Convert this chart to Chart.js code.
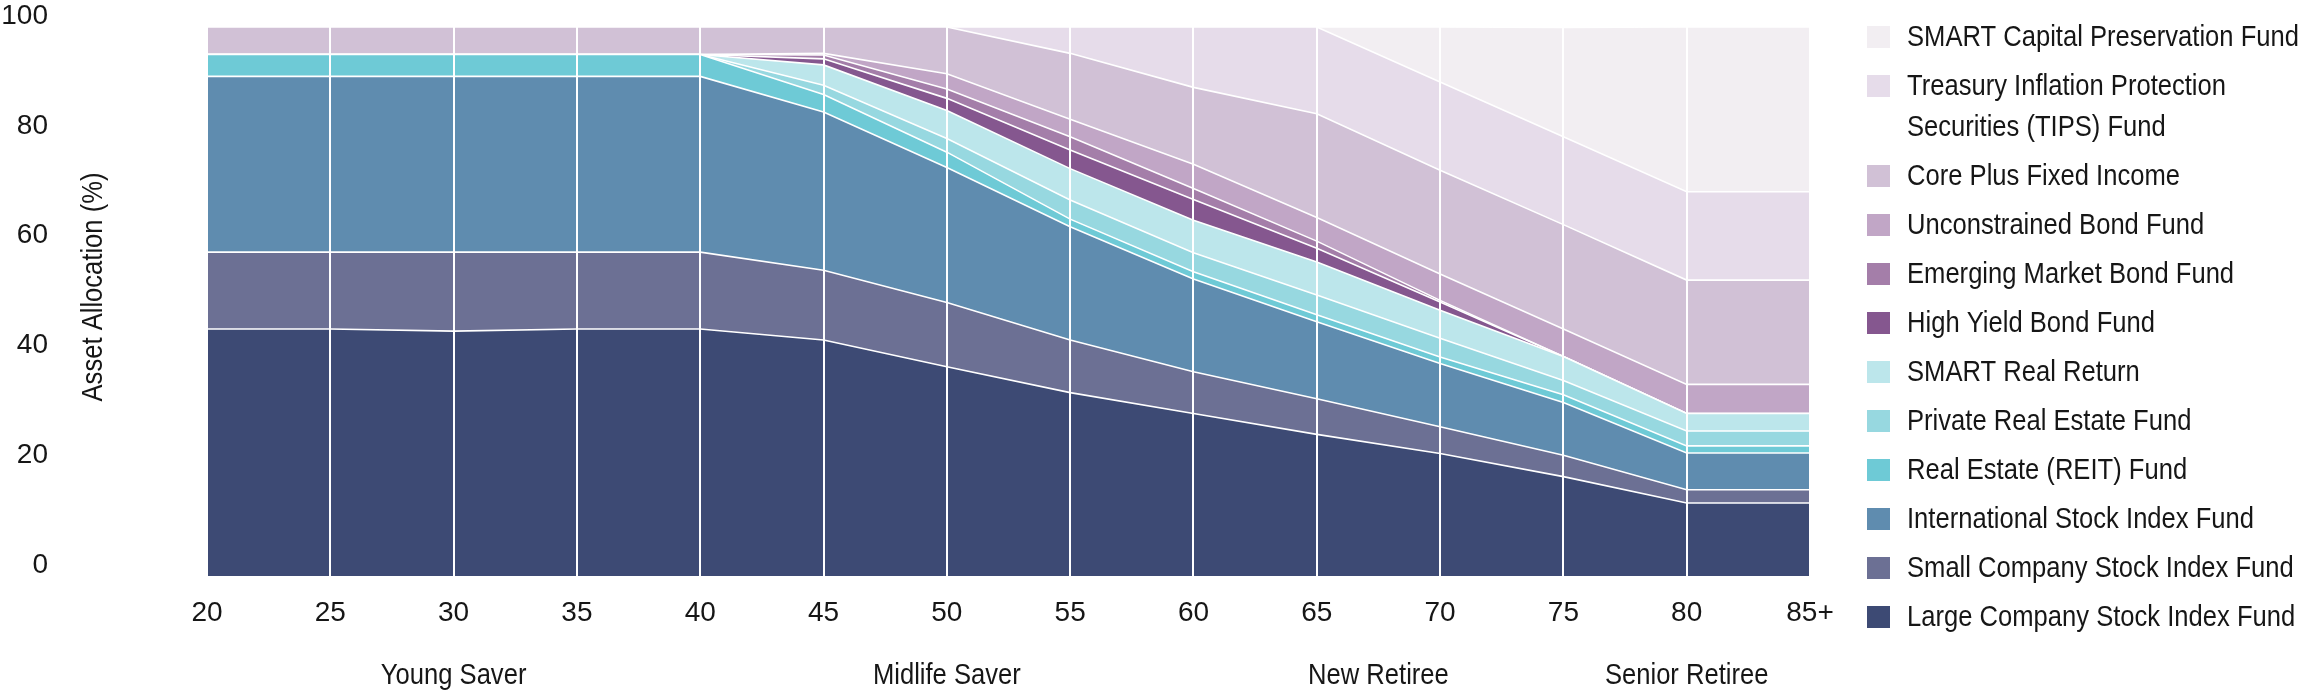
<!DOCTYPE html>
<html>
<head>
<meta charset="utf-8">
<script src="https://cdn.jsdelivr.net/npm/chart.js@4"></script>
<style>
  html, body { margin: 0; padding: 0; background: #fff; }
  canvas { display: block; }
</style>
</head>
<body>
<canvas id="grafica" width="2308" height="694"></canvas>
<script>
// ages along the glide path
const ages = ['20', '25', '30', '35', '40', '45', '50', '55', '60', '65', '70', '75', '80', '85+'];

// allocation (%) per fund, bottom of the stack first
const largeCompany  = [45, 45, 44.6, 45, 45, 43.0, 38.1, 33.4, 29.6, 25.8, 22.3, 18.1, 13.3, 13.3];
const smallCompany  = [14, 14, 14.4, 14, 14, 12.7, 11.7, 9.6, 7.6, 6.5, 4.9, 3.9, 2.4, 2.4];
const international = [32, 32, 32, 32, 32, 28.8, 24.6, 20.6, 16.9, 14.0, 11.5, 9.6, 6.7, 6.7];
const reit          = [4, 4, 4, 4, 4, 3.2, 2.8, 1.4, 1.3, 1.3, 1.2, 1.4, 1.3, 1.3];
const privateRE     = [0, 0, 0, 0, 0, 1.7, 2.5, 3.5, 3.5, 3.6, 3.4, 2.6, 2.7, 2.7];
const realReturn    = [0, 0, 0, 0, 0, 3.7, 5.1, 5.7, 5.9, 6.0, 5.1, 4.4, 3.2, 3.2];
const highYield     = [0, 0, 0, 0, 0, 1.1, 2.2, 3.4, 3.8, 2.5, 1.5, 0, 0, 0];
const emerging      = [0, 0, 0, 0, 0, 0.7, 1.7, 2.4, 2.0, 1.3, 0.3, 0, 0, 0];
const unconstrained = [0, 0, 0, 0, 0, 0.3, 2.8, 3.2, 4.4, 4.3, 4.8, 5.0, 5.3, 5.3];
const corePlus      = [5, 5, 5, 5, 5, 4.8, 8.5, 12.0, 14.0, 18.9, 18.9, 19.0, 19.0, 19.0];
const tips          = [0, 0, 0, 0, 0, 0, 0, 4.8, 11.0, 15.8, 16.1, 16.0, 16.1, 16.1];
const capPres       = [0, 0, 0, 0, 0, 0, 0, 0, 0, 0, 10.0, 19.9, 30.0, 30.0];

// life stage captions, placed at a category position (index)
const stages = ['Young Saver', 'Midlife Saver', 'New Retiree', 'Senior Retiree'];
const stageAt = [2, 6, 9.5, 12];

const series = [
  { label: ['Large Company Stock Index Fund'], data: largeCompany, color: '#3d4a74' },
  { label: ['Small Company Stock Index Fund'], data: smallCompany, color: '#6c7094' },
  { label: ['International Stock Index Fund'], data: international, color: '#5f8caf' },
  { label: ['Real Estate (REIT) Fund'], data: reit, color: '#6ecad6' },
  { label: ['Private Real Estate Fund'], data: privateRE, color: '#97d8e0' },
  { label: ['SMART Real Return'], data: realReturn, color: '#bce6eb' },
  { label: ['High Yield Bond Fund'], data: highYield, color: '#85578f' },
  { label: ['Emerging Market Bond Fund'], data: emerging, color: '#a47ea9' },
  { label: ['Unconstrained Bond Fund'], data: unconstrained, color: '#c1a6c6' },
  { label: ['Core Plus Fixed Income'], data: corePlus, color: '#d1c1d6' },
  { label: ['Treasury Inflation Protection', 'Securities (TIPS) Fund'], data: tips, color: '#e6dcea' },
  { label: ['SMART Capital Preservation Fund'], data: capPres, color: '#f2eef2' }
];

const FONT = '"Liberation Sans", Arial, sans-serif';
const INK = '#161616';
Chart.defaults.font.family = FONT;
Chart.defaults.font.size = 28;
Chart.defaults.color = INK;

// the original type is a condensed face, so squeeze our own text sideways
function squeezed(ctx, text, x, y, k) {
  ctx.save();
  ctx.translate(x, y);
  ctx.scale(k, 1);
  ctx.fillText(text, 0, 0);
  ctx.restore();
}

// stage captions under the axis, legend on the right, y title
const extras = {
  id: 'extras',
  afterDraw(c) {
    const ctx = c.ctx;
    const xs = c.scales.x;
    ctx.save();
    ctx.font = '30px ' + FONT;
    ctx.textBaseline = 'middle';
    const k = 392 / ctx.measureText('SMART Capital Preservation Fund').width;

    ctx.fillStyle = INK;
    ctx.textAlign = 'center';
    stages.forEach((s, i) => {
      const a = Math.floor(stageAt[i]), b = Math.ceil(stageAt[i]);
      const px = (xs.getPixelForValue(a) + xs.getPixelForValue(b)) / 2;
      squeezed(ctx, s, px, 676, k);
    });

    // legend, top of the stack first
    ctx.textAlign = 'left';
    let y = 38;
    for (let i = series.length - 1; i >= 0; i--) {
      const s = series[i];
      ctx.fillStyle = s.color;
      ctx.fillRect(1867, y - 12, 23, 22);
      ctx.fillStyle = INK;
      s.label.forEach((line, j) => squeezed(ctx, line, 1907, y + j * 41, k));
      y += 49 + (s.label.length - 1) * 41;
    }

    // y axis title
    ctx.translate(94, 287);
    ctx.rotate(-Math.PI / 2);
    ctx.textAlign = 'center';
    squeezed(ctx, 'Asset Allocation (%)', 0, 0, k);
    ctx.restore();
  }
};

new Chart(document.getElementById('grafica').getContext('2d'), {
  type: 'line',
  data: {
    labels: ages,
    datasets: series.map((s, i) => ({
      label: s.label.join(' '),
      data: s.data,
      backgroundColor: s.color,
      borderColor: '#ffffff',
      borderWidth: 1.6,
      fill: i === 0 ? 'origin' : '-1',
      pointRadius: 0,
      tension: 0
    }))
  },
  options: {
    responsive: false,
    animation: false,
    layout: { padding: { top: 27, right: 498, left: 0, bottom: 0 } },
    plugins: {
      legend: { display: false },
      tooltip: { enabled: false }
    },
    scales: {
      x: {
        type: 'category',
        offset: false,
        grid: { color: '#ffffff', lineWidth: 2, drawTicks: false, z: 1 },
        border: { display: false },
        ticks: { padding: 20, maxRotation: 0, autoSkip: false },
        afterFit(s) { s.height = 118; }
      },
      y: {
        stacked: true,
        min: 0,
        max: 100,
        grid: { display: false, drawTicks: false },
        border: { display: false },
        ticks: { stepSize: 20, padding: 159, labelOffset: -11 },
        afterFit(s) {
          s.width = 207;
          s.paddingTop = 0;
          s.paddingBottom = 0;
        }
      }
    }
  },
  plugins: [extras]
});
</script>
</body>
</html>
